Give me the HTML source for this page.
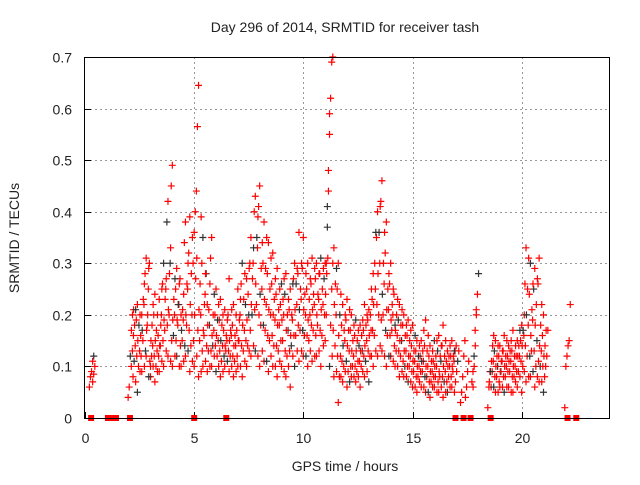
<!DOCTYPE html>
<html><head><meta charset="utf-8"><style>
body{margin:0;background:#fff;}
svg text{font-family:"Liberation Sans",sans-serif;font-size:14px;fill:#222;}
</style></head><body>
<svg id="chart" width="640" height="480" xmlns="http://www.w3.org/2000/svg">
<text x="345" y="32" text-anchor="middle">Day 296 of 2014, SRMTID for receiver tash</text>
<text transform="translate(19,238) rotate(-90)" text-anchor="middle">SRMTID / TECUs</text>
<text x="345" y="471" text-anchor="middle">GPS time / hours</text>
<g id="grid"></g>
<g id="ticks"></g>
<g id="pts"></g>
<rect x="84.5" y="57.5" width="525" height="361" fill="none" stroke="#000" stroke-width="1"/>
</svg>
<script>
const xTicks=[0,5,10,15,20];
const yTicks=[0,0.1,0.2,0.3,0.4,0.5,0.6,0.7];
const yTickLabels=["0","0.1","0.2","0.3","0.4","0.5","0.6","0.7"];
const binTimes=[0.3,0.4,2.1,2.3,2.5,2.7,2.9,3.1,3.3,3.5,3.7,3.9,4.1,4.3,4.5,4.7,4.9,5.1,5.3,5.5,5.7,5.9,6.1,6.3,6.5,6.7,6.9,7.1,7.3,7.5,7.7,7.9,8.1,8.3,8.5,8.7,8.9,9.1,9.3,9.5,9.7,9.9,10.1,10.3,10.5,10.7,10.9,11.1,11.2,11.3,11.5,11.7,11.9,12.1,12.3,12.5,12.7,12.9,13.1,13.3,13.5,13.7,13.9,14.1,14.3,14.5,14.7,14.9,15.1,15.3,15.5,15.7,15.9,16.1,16.3,16.5,16.7,16.9,17.3,17.5,17.9,18.5,18.7,18.9,19.1,19.3,19.5,19.7,19.9,20.1,20.3,20.5,20.7,20.9,21.1,22.1];
const binValues=[[.06,.08,.09,.11,.12],[.07,.085,.1],[.04,.06,.12,.17,.2,.21],[.08,.11,.14,.19,.22],[.05,.1,.13,.16,.2],[.09,.15,.22,.28,.31],[.12,.18,.25,.3,.1],[.08,.12,.14,.2,.24],[.07,.1,.13,.16,.23],[.09,.14,.2,.26,.3],[.1,.17,.25,.38,.42],[.12,.2,.3,.45,.49],[.1,.16,.2,.25,.29],[.12,.18,.22,.27,.2],[.1,.15,.19,.34,.38],[.12,.18,.25,.32,.39],[.09,.14,.2,.3,.36],[.1,.4,.44,.565,.645],[.08,.15,.2,.3,.35],[.1,.16,.24,.28,.22],[.09,.13,.18,.31,.35],[.1,.14,.17,.2,.25],[.09,.12,.15,.19,.23],[.08,.11,.14,.17,.21],[.1,.13,.15,.2,.27],[.09,.12,.16,.18,.22],[.08,.11,.14,.17,.25],[.1,.15,.2,.26,.3],[.08,.13,.17,.22,.27],[.1,.14,.2,.3,.35],[.12,.2,.3,.4,.43],[.13,.22,.33,.41,.45],[.1,.18,.25,.3,.38],[.11,.17,.22,.28,.34],[.09,.15,.2,.26,.32],[.1,.14,.19,.24,.29],[.08,.13,.18,.22,.26],[.1,.15,.2,.24,.28],[.08,.12,.17,.21,.25],[.06,.14,.19,.27,.3],[.1,.16,.22,.28,.36],[.11,.17,.23,.29,.35],[.12,.16,.2,.25,.3],[.1,.15,.2,.26,.31],[.11,.17,.22,.27,.3],[.12,.18,.23,.28,.31],[.1,.16,.22,.27,.3],[.15,.3,.37,.44,.59],[.2,.41,.48,.55,.62,.69,.7],[.1,.18,.25,.3,.33],[.08,.14,.2,.25,.3],[.03,.08,.12,.18,.22],[.07,.1,.15,.19,.23],[.06,.09,.13,.17,.2],[.08,.1,.12,.16,.19],[.07,.09,.11,.14,.18],[.06,.1,.13,.17,.22],[.08,.11,.15,.19,.21],[.07,.12,.17,.23,.28],[.1,.16,.25,.35,.4],[.12,.2,.3,.42,.46],[.13,.2,.26,.32,.38],[.1,.16,.21,.26,.3],[.12,.17,.2,.24,.18],[.1,.13,.16,.19,.22],[.08,.12,.15,.18,.2],[.08,.1,.13,.16,.19],[.07,.1,.12,.14,.18],[.06,.09,.11,.13,.15],[.05,.08,.1,.12,.15],[.06,.09,.11,.14,.19],[.05,.08,.1,.12,.14],[.04,.07,.09,.11,.15],[.06,.08,.1,.13,.16],[.05,.08,.11,.14,.18],[.04,.07,.09,.11,.13],[.05,.08,.1,.12,.15],[.06,.09,.11,.13,.14],[.03,.05,.08,.12,.15],[.04,.06,.09,.11],[.06,.1,.14,.2,.24,.28],[.02,.06,.09],[.06,.09,.11,.13,.15],[.05,.08,.1,.12,.14],[.06,.09,.11,.13,.16],[.05,.08,.1,.12,.14],[.06,.09,.11,.13,.17],[.05,.08,.1,.12,.15],[.06,.09,.12,.15,.18],[.05,.1,.16,.26,.33],[.07,.12,.18,.24,.3],[.08,.13,.19,.25,.29],[.06,.1,.15,.26,.31],[.07,.1,.13,.16,.2],[.05,.08,.1,.12,.17],[.02,.1,.12,.14,.15,.22]];
const binTimes2=[2.2,2.4,2.6,2.8,3.0,3.2,3.4,3.6,3.8,4.0,4.2,4.4,4.6,4.8,5.0,5.2,5.4,5.6,5.8,6.0,6.2,6.4,6.6,6.8,7.0,7.2,7.4,7.6,7.8,8.0,8.2,8.4,8.6,8.8,9.0,9.2,9.4,9.6,9.8,10.0,10.2,10.4,10.6,10.8,11.0,11.4,11.6,11.8,12.0,12.2,12.4,12.6,12.8,13.0,13.2,13.4,13.6,13.8,14.0,14.2,14.4,14.6,14.8,15.0,15.2,15.4,15.6,15.8,16.0,16.2,16.4,16.6,16.8,17.0,17.8,18.6,18.8,19.0,19.2,19.4,19.6,19.8,20.0,20.2,20.4,20.6,20.8,21.0];
const binValues2=[[.1,.13,.16,.18,.21],[.07,.12,.15,.18,.2],[.09,.12,.17,.23,.26],[.1,.13,.17,.2,.29],[.08,.11,.15,.18,.22],[.1,.12,.15,.17,.2],[.09,.12,.14,.18,.25],[.11,.15,.19,.23,.27],[.13,.18,.21,.28,.33],[.11,.15,.19,.23,.27],[.12,.15,.19,.22,.26],[.1,.14,.17,.21,.24],[.11,.14,.2,.26,.3],[.13,.17,.22,.28,.35],[.11,.15,.2,.27,.31],[.12,.17,.21,.26,.39],[.09,.13,.17,.22,.28],[.11,.14,.18,.21,.26],[.1,.13,.16,.2,.24],[.12,.14,.16,.19,.22],[.1,.13,.15,.18,.2],[.09,.12,.14,.16,.19],[.11,.13,.15,.17,.21],[.1,.12,.14,.16,.2],[.09,.12,.15,.19,.23],[.1,.14,.18,.23,.28],[.11,.15,.19,.24,.29],[.13,.17,.22,.27,.33],[.14,.21,.26,.35,.39],[.12,.2,.24,.29,.34],[.13,.18,.23,.29,.35],[.11,.16,.21,.25,.31],[.12,.16,.2,.23,.27],[.1,.14,.18,.21,.25],[.11,.15,.19,.23,.27],[.09,.13,.17,.2,.23],[.1,.13,.16,.2,.26],[.12,.16,.21,.26,.29],[.13,.18,.21,.25,.3],[.13,.17,.21,.24,.28],[.12,.16,.19,.23,.27],[.13,.18,.21,.24,.29],[.12,.16,.2,.24,.28],[.13,.17,.21,.25,.29],[.14,.2,.24,.28,.31],[.12,.17,.22,.26,.29],[.09,.12,.16,.2,.24],[.08,.11,.14,.17,.2],[.09,.11,.14,.17,.21],[.07,.1,.13,.15,.18],[.08,.1,.13,.15,.17],[.08,.11,.13,.16,.19],[.09,.12,.14,.18,.2],[.09,.13,.16,.2,.25],[.12,.17,.22,.3,.36],[.13,.22,.28,.36,.41],[.14,.19,.24,.3,.36],[.12,.17,.21,.25,.28],[.12,.16,.19,.22,.25],[.11,.14,.17,.2,.23],[.1,.13,.15,.18,.21],[.09,.11,.13,.16,.18],[.08,.1,.12,.15,.17],[.07,.09,.11,.13,.16],[.06,.08,.1,.12,.14],[.07,.09,.11,.13,.17],[.06,.08,.1,.13,.16],[.05,.07,.09,.11,.13],[.06,.08,.1,.12,.15],[.05,.07,.09,.12,.14],[.06,.08,.1,.12,.15],[.05,.07,.1,.12,.14],[.06,.08,.1,.12,.13],[.05,.07,.09,.11,.13],[.07,.09,.12,.17,.21],[.07,.09,.11,.14,.16],[.06,.08,.1,.12,.14],[.05,.07,.09,.11,.13],[.06,.08,.1,.12,.15],[.06,.09,.11,.13,.15],[.05,.08,.1,.12,.14],[.07,.09,.12,.14,.17],[.08,.11,.14,.17,.2],[.09,.14,.2,.25,.31],[.08,.12,.16,.21,.26],[.09,.13,.18,.22,.27],[.08,.11,.14,.18,.22],[.07,.1,.12,.14,.17]];
const zeroTimes=[0.28,1.05,1.28,1.42,2.06,5.0,6.47,16.97,17.34,17.66,18.58,22.1,22.5];
const NS="http://www.w3.org/2000/svg";
const X0=85,X1=609,Y0=418,Y1=57,XMAX=24,YMAX=0.7;
function xs(t){return X0+(X1-X0)*t/XMAX;}
function ys(v){return Y0-(Y0-Y1)*v/YMAX;}
function mk(tag,attrs,parent){const e=document.createElementNS(NS,tag);for(const k in attrs)e.setAttribute(k,attrs[k]);parent.appendChild(e);return e;}
const grid=document.getElementById('grid'),ticks=document.getElementById('ticks'),pts=document.getElementById('pts');
xTicks.forEach(t=>{const x=Math.round(xs(t))+0.5;
 if(t>0){const g=mk('line',{x1:x,x2:x,y1:Y1,y2:Y0,stroke:'#999','stroke-dasharray':'2,3'},grid);
 
 }
 mk('line',{x1:x,x2:x,y1:Y0,y2:Y0-6,stroke:'#000'},ticks);
 const l=mk('text',{x:x,y:443,'text-anchor':'middle'},ticks);l.textContent=String(t);
 
 });
yTicks.forEach((v,i)=>{const y=Math.round(ys(v))+0.5;
 if(v>0&&v<0.7){const g=mk('line',{x1:X0,x2:X1,y1:y,y2:y,stroke:'#999','stroke-dasharray':'2,3'},grid);
 
 }
 mk('line',{x1:X0,x2:X0+6,y1:y,y2:y,stroke:'#000'},ticks);
 const l=mk('text',{x:72,y:y+5,'text-anchor':'end'},ticks);l.textContent=yTickLabels[i];
 
 });
function drawBins(times,values,shift){
 times.forEach((t,b)=>{const vals=values[b];
  vals.forEach((v,k)=>{const off=(k-(vals.length-1)/2)*0.05+shift;
   const x=xs(t+off),y=ys(v);
   const p=mk('path',{d:`M${x-3.5},${y}H${x+3.5}M${x},${y-3.5}V${y+3.5}`,stroke:((b+k)%9==4?'#333':'#f00'),'stroke-width':1.2,fill:'none'},pts);
   
   });});
}
drawBins(binTimes,binValues,0);
drawBins(binTimes2,binValues2,0.02);
zeroTimes.forEach(t=>{const x=xs(t),y=ys(0);
 const r=mk('rect',{x:x-3,y:y-3,width:6,height:6,fill:'#f00'},pts);
 
 });
</script>
</body></html>
